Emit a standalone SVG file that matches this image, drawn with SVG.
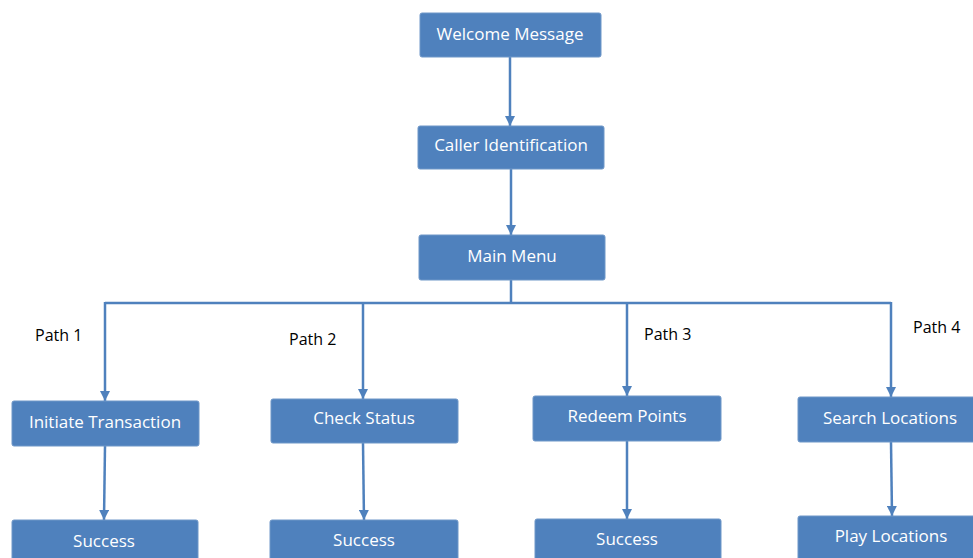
<svg xmlns="http://www.w3.org/2000/svg" width="973" height="558" viewBox="0 0 973 558">
<style>
.box{fill:#4F81BD;stroke:#6F97C8;stroke-width:1}
.lbl{fill:#ffffff;font-family:"Open Sans","Liberation Sans",sans-serif;font-size:17px;text-anchor:middle;dominant-baseline:central}
.path{fill:#000000;font-family:"Open Sans","Liberation Sans",sans-serif;font-size:16px;dominant-baseline:central}
.con{fill:none;stroke:#4F81BD;stroke-width:2.5}
</style>
<defs>
<marker id="ah" viewBox="0 0 10 10" refX="10" refY="5" markerWidth="4" markerHeight="4" orient="auto" markerUnits="strokeWidth">
<path d="M0,0 L10,5 L0,10 z" fill="#4F81BD"/>
</marker>
</defs>
<g id="connectors">
<line class="con" x1="510" y1="57" x2="510" y2="126" marker-end="url(#ah)"/>
<line class="con" x1="511" y1="169" x2="511" y2="235" marker-end="url(#ah)"/>
<polyline class="con" points="511,280 511,303"/>
<line class="con" x1="105" y1="303" x2="891" y2="303"/>
<line class="con" x1="105" y1="302" x2="105" y2="401" marker-end="url(#ah)"/>
<line class="con" x1="363" y1="303" x2="363" y2="399" marker-end="url(#ah)"/>
<line class="con" x1="627" y1="303" x2="627" y2="396" marker-end="url(#ah)"/>
<line class="con" x1="891" y1="302" x2="891" y2="397" marker-end="url(#ah)"/>
<line class="con" x1="105" y1="446" x2="104" y2="520" marker-end="url(#ah)"/>
<line class="con" x1="363" y1="443" x2="364" y2="520" marker-end="url(#ah)"/>
<line class="con" x1="627" y1="441" x2="627" y2="519" marker-end="url(#ah)"/>
<line class="con" x1="891" y1="442" x2="892" y2="516" marker-end="url(#ah)"/>
</g>
<g id="welcome"><rect class="box" x="420" y="13" width="181" height="44" rx="2"/><text class="lbl" x="510" y="33">Welcome Message</text></g>
<g id="caller"><rect class="box" x="418" y="126" width="186" height="43" rx="2"/><text class="lbl" x="511" y="144">Caller Identification</text></g>
<g id="mainmenu"><rect class="box" x="419" y="235" width="186" height="45" rx="2"/><text class="lbl" x="512" y="255">Main Menu</text></g>
<g id="initiate"><rect class="box" x="12" y="401" width="187" height="45" rx="2"/><text class="lbl" x="105" y="421">Initiate Transaction</text></g>
<g id="check"><rect class="box" x="271" y="399" width="187" height="44" rx="2"/><text class="lbl" x="364" y="417">Check Status</text></g>
<g id="redeem"><rect class="box" x="533" y="396" width="188" height="45" rx="2"/><text class="lbl" x="627" y="415">Redeem Points</text></g>
<g id="search"><rect class="box" x="798" y="397" width="187" height="45" rx="2"/><text class="lbl" x="890" y="417">Search Locations</text></g>
<g id="success1"><rect class="box" x="12" y="520" width="186" height="50" rx="2"/><text class="lbl" x="104" y="540">Success</text></g>
<g id="success2"><rect class="box" x="270" y="520" width="188" height="50" rx="2"/><text class="lbl" x="364" y="539">Success</text></g>
<g id="success3"><rect class="box" x="535" y="519" width="186" height="50" rx="2"/><text class="lbl" x="627" y="538">Success</text></g>
<g id="play"><rect class="box" x="798" y="516" width="187" height="50" rx="2"/><text class="lbl" x="891" y="535">Play Locations</text></g>
<g id="labels">
<text class="path" x="35" y="335">Path 1</text>
<text class="path" x="289" y="339">Path 2</text>
<text class="path" x="644" y="334">Path 3</text>
<text class="path" x="913" y="327">Path 4</text>
</g>
</svg>
